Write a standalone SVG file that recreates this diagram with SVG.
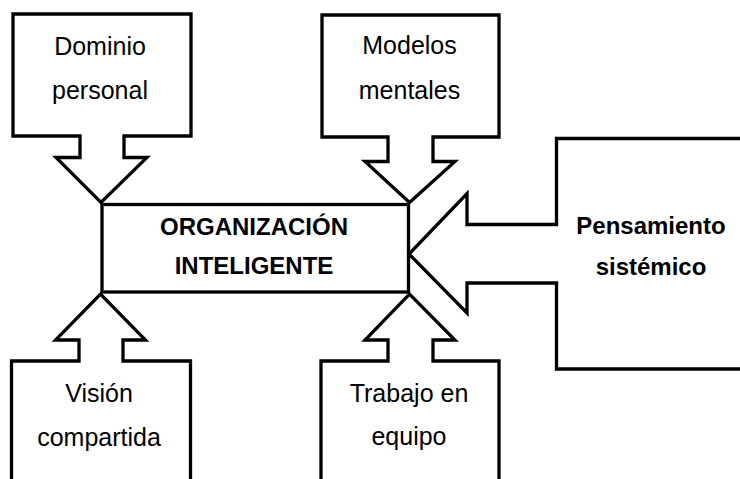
<svg xmlns="http://www.w3.org/2000/svg" width="740" height="479" viewBox="0 0 740 479">
<style>
.shape{fill:#fff;stroke:#000;stroke-width:3.3;stroke-linejoin:miter}
.t{font-family:"Liberation Sans",Arial,sans-serif;font-size:25px;fill:#000;text-anchor:middle}
.b{font-family:"Liberation Sans",Arial,sans-serif;font-size:24px;font-weight:bold;fill:#000;text-anchor:middle}
</style>
<rect width="740" height="479" fill="#fff"/>
<g id="connectors"></g>
<g id="organizacion">
<rect class="shape" x="102" y="204.5" width="306.5" height="87.5"/>
<text class="b" x="254" y="235">ORGANIZACIÓN</text>
<text class="b" x="254" y="274">INTELIGENTE</text>
</g>
<g id="dominio">
<path class="shape" d="M13,14 H191 V136 H124 V157.5 H147 L101,202.5 L56,157.5 H80 V136 H13 Z"/>
<text class="t" x="100" y="55">Dominio</text>
<text class="t" x="100" y="99">personal</text>
</g>
<g id="modelos">
<path class="shape" d="M322,15 H499 V137 H433 V161.5 H455 L409.5,202.5 L365,161.5 H388 V137 H322 Z"/>
<text class="t" x="409.5" y="54">Modelos</text>
<text class="t" x="409.5" y="99">mentales</text>
</g>
<g id="pensamiento">
<path class="shape" d="M746,138.5 H556.5 V224.5 H467 V193.5 L409,254 L467,313 V283 H556.5 V369 H746 Z"/>
<text class="b" x="651" y="234">Pensamiento</text>
<text class="b" x="651" y="275">sistémico</text>
</g>
<g id="vision">
<path class="shape" d="M11.5,485 V361 H79 V340 H55.5 L100.5,294 L145.5,340 H123 V361 H190.5 V485 Z"/>
<text class="t" x="99" y="402">Visión</text>
<text class="t" x="99" y="446">compartida</text>
</g>
<g id="trabajo">
<path class="shape" d="M321,485 V361 H388 V340 H365 L409.5,294 L455,340 H433 V361 H499 V485 Z"/>
<text class="t" x="409" y="402">Trabajo en</text>
<text class="t" x="409" y="445">equipo</text>
</g>
</svg>
